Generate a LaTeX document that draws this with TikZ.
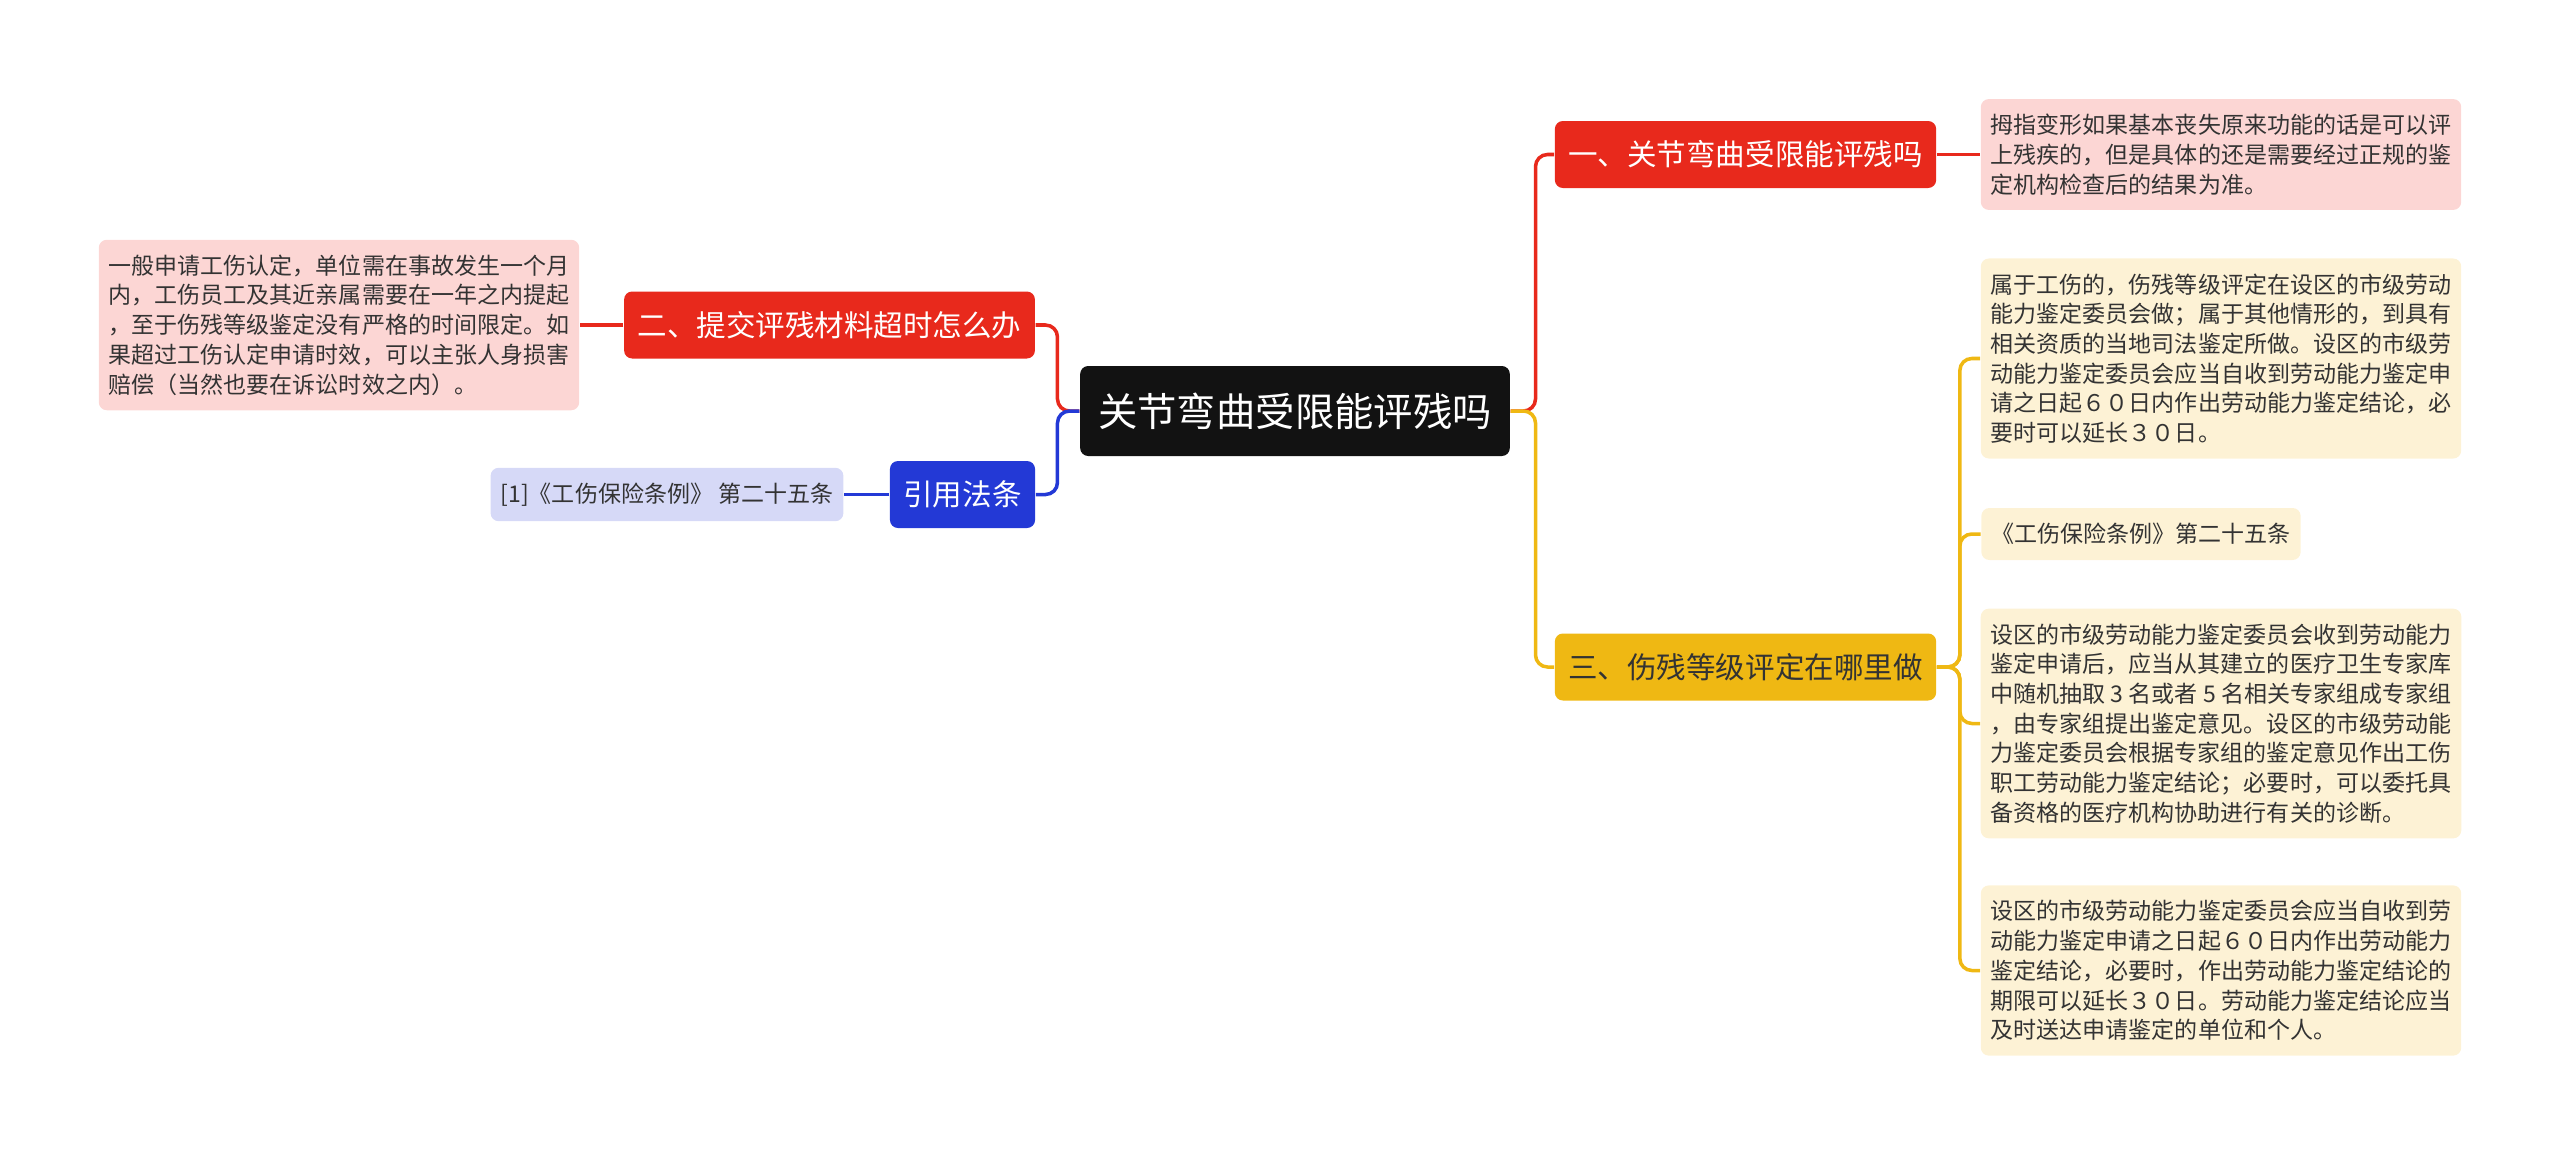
\documentclass[tikz,border=0pt]{standalone}
\usepackage{fontspec}
\setmainfont{Noto Sans CJK SC}
\usetikzlibrary{ % tikz packages
    positioning
}
\definecolor{topRed}{HTML}{E8291C}
\definecolor{topYellow}{HTML}{EFB813}
\definecolor{topBlue}{HTML}{2339D6}
\definecolor{leafPink}{HTML}{FCD6D4}
\definecolor{leafCream}{HTML}{FDF2D5}
\definecolor{leafLilac}{HTML}{D6D9F7}
\definecolor{leafText}{HTML}{333333}
\tikzset{
    rootNode/.style={fill=black!93, text=white, rounded corners=0.08cm,
        inner xsep=0.18cm, minimum height=0.9cm,
        font=\fontsize{11.2}{13}\selectfont},
    topic/.style={rounded corners=0.08cm, inner xsep=0.135cm,
        minimum height=0.67cm, font=\fontsize{8.4}{10}\selectfont},
    redTopic/.style={topic, fill=topRed, text=white},
    yellowTopic/.style={topic, fill=topYellow, text=leafText},
    blueTopic/.style={topic, fill=topBlue, text=white},
    leaf/.style={rounded corners=0.08cm, align=left, inner xsep=0.1cm,
        inner ysep=0.15cm, text=leafText,
        font=\fontsize{6.55}{8.45}\selectfont},
    link/.style={line width=1pt, rounded corners=0.12cm}
}

\begin{document}
\begin{tikzpicture}[on grid]
    \useasboundingbox (0,0) rectangle (25.6,-11.57);

    \node[rootNode] (root) at (12.95,-4.11) {关节弯曲受限能评残吗};

    \node[redTopic] (n1) [above right=2.565cm and 4.505cm of root] {一、关节弯曲受限能评残吗};
    \node[yellowTopic] (n3) [below right=2.56cm and 4.505cm of root] {三、伤残等级评定在哪里做};
    \node[redTopic] (n2) [above left=0.86cm and 4.655cm of root] {二、提交评残材料超时怎么办};
    \node[blueTopic] (cite) [below left=0.835cm and 3.325cm of root] {引用法条};

    \node[leaf, fill=leafPink] (p1) [right=4.755cm of n1]
        {拇指变形如果基本丧失原来功能的话是可以评\\上残疾的，但是具体的还是需要经过正规的鉴\\定机构检查后的结果为准。};
    \node[leaf, fill=leafPink] (p2) [left=4.905cm of n2]
        {一般申请工伤认定，单位需在事故发生一个月\\内，工伤员工及其近亲属需要在一年之内提起\\，至于伤残等级鉴定没有严格的时间限定。如\\果超过工伤认定申请时效，可以主张人身损害\\赔偿（当然也要在诉讼时效之内）。};
    \node[leaf, fill=leafLilac, minimum height=0.49cm] (law) [left=2.955cm of cite]
        {[1]《工伤保险条例》 第二十五条};

    \node[leaf, fill=leafCream] (y1) [above right=3.085cm and 4.755cm of n3]
        {属于工伤的，伤残等级评定在设区的市级劳动\\能力鉴定委员会做；属于其他情形的，到具有\\相关资质的当地司法鉴定所做。设区的市级劳\\动能力鉴定委员会应当自收到劳动能力鉴定申\\请之日起６０日内作出劳动能力鉴定结论，必\\要时可以延长３０日。};
    \node[leaf, fill=leafCream, minimum height=0.52cm] (y2) [above right=1.33cm and 3.955cm of n3]
        {《工伤保险条例》第二十五条};
    \node[leaf, fill=leafCream] (y3) [below right=0.565cm and 4.755cm of n3]
        {设区的市级劳动能力鉴定委员会收到劳动能力\\鉴定申请后，应当从其建立的医疗卫生专家库\\中随机抽取 3 名或者 5 名相关专家组成专家组\\，由专家组提出鉴定意见。设区的市级劳动能\\力鉴定委员会根据专家组的鉴定意见作出工伤\\职工劳动能力鉴定结论；必要时，可以委托具\\备资格的医疗机构协助进行有关的诊断。};
    \node[leaf, fill=leafCream] (y4) [below right=3.035cm and 4.755cm of n3]
        {设区的市级劳动能力鉴定委员会应当自收到劳\\动能力鉴定申请之日起６０日内作出劳动能力\\鉴定结论，必要时，作出劳动能力鉴定结论的\\期限可以延长３０日。劳动能力鉴定结论应当\\及时送达申请鉴定的单位和个人。};

    \draw[link, topRed] (root.east) -- ++(0.25,0) |- (n1.west);
    \draw[link, topYellow] (root.east) -- ++(0.25,0) |- (n3.west);
    \draw[link, topRed] (root.west) -- ++(-0.22,0) |- (n2.east);
    \draw[link, topBlue] (root.west) -- ++(-0.22,0) |- (cite.east);

    \draw[link, topRed] (n1.east) -- (p1.west);
    \draw[link, topRed] (n2.west) -- (p2.east);
    \draw[link, topBlue] (cite.west) -- (law.east);
    \foreach \leafName in {y1,y2,y3,y4}
        \draw[link, topYellow] (n3.east) -- ++(0.23,0) |- (\leafName.west);
\end{tikzpicture}
\end{document}
